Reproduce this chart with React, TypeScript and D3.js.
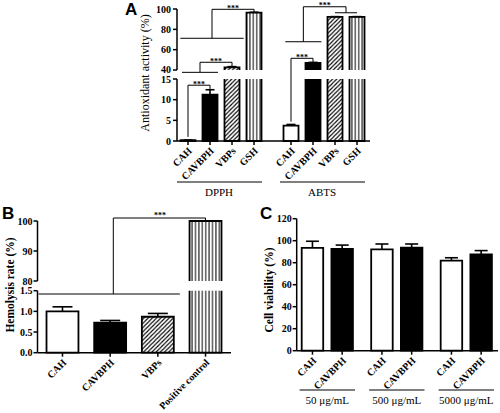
import React from 'react';
import * as d3 from 'd3';

// ---------- Panel A data ----------
const aGroups = ['DPPH', 'ABTS'];
const aCats = ['CAH', 'CAVBPH', 'VBPs', 'GSH'];
const aDPPH = [0.2, 11.2, 42.5, 96.5];
const aDPPHErr = [0.05, 1.2, 0.8, 0.3];
const aABTS = [3.7, 47.0, 92.2, 92.2];
const aABTSErr = [0.3, 0.5, 0.3, 0.3];
const aTopTicks = [40, 60, 80, 100];
const aBotTicks = [0, 5, 10, 15];

// ---------- Panel B data ----------
const bCats = ['CAH', 'CAVBPH', 'VBPs', 'Positive control'];
const bVals = [1.0, 0.73, 0.87, 100];
const bErr = [0.11, 0.05, 0.08, 0];
const bTopTicks = [80, 90, 100];
const bBotTicks = [0, 0.5, 1.0, 1.5];
const bTickLabels = ['0.0', '0.5', '1.0', '1.5'];

// ---------- Panel C data ----------
const cGroups = ['50 μg/mL', '500 μg/mL', '5000 μg/mL'];
const cCats = ['CAH', 'CAVBPH'];
const cCAH = [93.5, 92.2, 81.8];
const cCAHErr = [6.0, 4.8, 2.7];
const cCAVBPH = [92.5, 93.6, 87.6];
const cCAVBPHErr = [3.5, 3.4, 3.4];
const cTicks = [0, 20, 40, 60, 80, 100, 120];

const SERIF = '"Liberation Serif", "DejaVu Serif", serif';
const SANS = '"Liberation Sans", Arial, sans-serif';

const fillFor = (c: string) =>
  c === 'CAH' ? '#fff' : c === 'CAVBPH' ? '#000' : c === 'VBPs' ? 'url(#hatch)' : 'url(#vstripe)';

type Scale = (v: number) => number;

function Bar(props: {
  x: number; w: number; v: number; err: number; fill: string;
  yLo: Scale; loMax: number; yHi?: Scale; hiMin?: number; capW: number;
}) {
  const { x, w, v, err, fill, yLo, loMax, yHi, hiMin, capW } = props;
  const broken = !!yHi && hiMin !== undefined && v > hiMin;
  const y0 = yLo(0);
  const y1 = yLo(Math.min(v, loMax));
  const yOf = (t: number) => (broken && yHi ? yHi(t) : yLo(t));
  const cx = x + w / 2;
  const sw = 1.8;
  const lowPath = broken
    ? `M${x},${y1}V${y0}H${x + w}V${y1}`
    : `M${x},${y0}V${y1}H${x + w}V${y0}Z`;
  let high = null;
  if (broken && yHi && hiMin !== undefined) {
    const h0 = yHi(hiMin);
    const h1 = yHi(v);
    high = (
      <g>
        <rect x={x} y={h1} width={w} height={h0 - h1} fill={fill} />
        <path d={`M${x},${h0}V${h1}H${x + w}V${h0}`} fill="none" stroke="#000" strokeWidth={sw} />
      </g>
    );
  }
  const yt = yOf(v);
  const ye = yOf(v + err);
  return (
    <g>
      <rect x={x} y={y1} width={w} height={y0 - y1} fill={fill} />
      <path d={lowPath} fill="none" stroke="#000" strokeWidth={sw} />
      {high}
      {err > 0 && (
        <g stroke="#000" strokeWidth={1.6}>
          <line x1={cx} x2={cx} y1={yt} y2={ye} />
          <line x1={cx - capW / 2} x2={cx + capW / 2} y1={ye} y2={ye} />
        </g>
      )}
    </g>
  );
}

function Stars({ x, y }: { x: number; y: number }) {
  return (
    <text x={x} y={y + 1.5} textAnchor="middle" fontFamily={SERIF} fontSize={8} fontWeight="bold">***</text>
  );
}

export default function App() {
  // ----- Panel A scales -----
  const axA = 177;
  const yTopA = d3.scaleLinear().domain([40, 100]).range([70, 9]);
  const yBotA = d3.scaleLinear().domain([0, 15]).range([141, 79]);
  const yA = (v: number) => (v > 27 ? yTopA(v) : yBotA(v));
  const gA = d3.scaleBand<string>().domain(aGroups).range([177, 368]).paddingInner(15 / 103);
  const iA = d3.scaleBand<string>().domain(aCats).range([0, gA.bandwidth()]).paddingInner(0.318).paddingOuter(0.159);
  const cxA = (g: string, c: string) => (gA(g) as number) + (iA(c) as number) + iA.bandwidth() / 2;
  const baseA = yBotA(0);
  const aSeries: Record<string, { v: number[]; e: number[] }> = {
    DPPH: { v: aDPPH, e: aDPPHErr },
    ABTS: { v: aABTS, e: aABTSErr },
  };

  // brackets for A
  const d1 = cxA('DPPH', 'CAH'), d2 = cxA('DPPH', 'CAVBPH'), d3x = cxA('DPPH', 'VBPs'), d4 = cxA('DPPH', 'GSH');
  const b1 = cxA('ABTS', 'CAH'), b2 = cxA('ABTS', 'CAVBPH'), b3 = cxA('ABTS', 'VBPs'), b4 = cxA('ABTS', 'GSH');
  const br2L = d1 - 6, br2R = d2 + 8, br2M = (br2L + br2R) / 2;
  const br3L = d1 - 7.7, br3R = d3x + 11.7, br3M = (br3L + br3R) / 2;
  const br5L = b1 - 5.7, br5R = b2 + 8.4, br5M = (br5L + br5R) / 2, br5T = (b3 + b4) / 2;
  const bracketsA = [
    `M${d1},${yA(1.0)}V${yA(13.5)}H${d2}V${yA(12.6)}`,
    `M${br2L},${yA(37.7)}H${br2R}M${br2M},${yA(37.7)}V${yA(47.6)}H${d3x}V${yA(43.6)}`,
    `M${br3L},${yA(71.2)}H${br3R}M${br3M},${yA(71.2)}V${yA(99.7)}H${d4}V${yA(97.0)}`,
    `M${b1},${yA(4.7)}V${yA(51.5)}H${b2}V${yA(47.6)}`,
    `M${br5L},${yA(67.8)}H${br5R}M${br5M},${yA(67.8)}V${yA(102.2)}H${br5T}V${yA(96.3)}M${b3},${yA(96.3)}H${b4}`,
  ];
  const starsA = [
    { x: (d1 + d2) / 2, y: yA(13.5) },
    { x: (br2M + d3x) / 2, y: yA(47.6) },
    { x: (br3M + d4) / 2, y: yA(99.7) },
    { x: (b1 + b2) / 2, y: yA(51.5) },
    { x: (br5M + br5T) / 2, y: yA(102.2) },
  ];

  // ----- Panel B scales -----
  const axB = 37.5;
  const yTopB = d3.scaleLinear().domain([80, 100]).range([281, 221]);
  const yBotB = d3.scaleLinear().domain([0, 1.5]).range([352.7, 290.7]);
  const xB = d3.scaleBand<string>().domain(bCats).range([38.5, 229.5]).paddingInner(0.33).paddingOuter(0.168);
  const cxB = (c: string) => (xB(c) as number) + xB.bandwidth() / 2;
  const baseB = yBotB(0);
  const brBL = 38.5, brBR = cxB('VBPs') + 22, brBM = 113.3;
  const pcX = cxB('Positive control');

  // ----- Panel C scales -----
  const axC = 296.7;
  const yC = d3.scaleLinear().domain([0, 120]).range([350.7, 218.7]);
  const gC = d3.scaleBand<string>().domain(cGroups).range([297.6, 496]).paddingInner(0.145);
  const iC = d3.scaleBand<string>().domain(cCats).range([0, gC.bandwidth()]).paddingInner(0.276).paddingOuter(0.138);
  const baseC = yC(0);
  const cSeries: Record<string, { v: number[]; e: number[] }> = {
    CAH: { v: cCAH, e: cCAHErr },
    CAVBPH: { v: cCAVBPH, e: cCAVBPHErr },
  };

  const tickLabel = { fontFamily: SERIF, fontSize: 10, fontWeight: 'bold' as const };

  return (
    <svg width={500} height={413} style={{ position: 'absolute', left: 0, top: 0, background: '#fff' }}>
      <defs>
        <pattern id="hatch" patternUnits="userSpaceOnUse" width={4.2} height={4.2}>
          <rect width={4.2} height={4.2} fill="#fff" />
          <path d="M-1,1.05L1.05,-1M0,4.2L4.2,0M3.15,5.25L5.25,3.15" stroke="#000" strokeWidth={1.1} />
        </pattern>
        <pattern id="vstripe" patternUnits="userSpaceOnUse" width={3.4} height={10}>
          <rect width={3.4} height={10} fill="#fff" />
          <line x1={1.7} x2={1.7} y1={0} y2={10} stroke="#000" strokeWidth={1} />
        </pattern>
      </defs>

      {/* ================= Panel A ================= */}
      <text x={125} y={15} fontFamily={SANS} fontSize={17} fontWeight="bold">A</text>
      <g stroke="#000" strokeWidth={1.5}>
        <line x1={axA} x2={axA} y1={yTopA(100)} y2={yTopA(40)} />
        <line x1={axA} x2={axA} y1={yBotA(15)} y2={yBotA(0)} />
        {aTopTicks.map(t => <line key={'at' + t} x1={axA - 4} x2={axA} y1={yTopA(t)} y2={yTopA(t)} />)}
        {aBotTicks.map(t => <line key={'ab' + t} x1={axA - 4} x2={axA} y1={yBotA(t)} y2={yBotA(t)} />)}
      </g>
      {aTopTicks.map(t => (
        <text key={'atl' + t} x={axA - 6} y={yTopA(t) - (t === 40 ? 0.8 : 0)} dy="0.35em" textAnchor="end" {...tickLabel}>{t}</text>
      ))}
      {aBotTicks.map(t => (
        <text key={'abl' + t} x={axA - 6} y={yBotA(t) + (t === 15 ? 0.8 : 0)} dy="0.35em" textAnchor="end" {...tickLabel}>{t}</text>
      ))}
      <text transform={`translate(145,73) rotate(-90)`} dy="0.35em" textAnchor="middle" fontFamily={SERIF} fontSize={12}>
        Antioxidant activity (%)
      </text>

      {aGroups.map(g => (
        <g key={g}>
          {aCats.map((c, i) => (
            <Bar key={c} x={(gA(g) as number) + (iA(c) as number)} w={iA.bandwidth()} v={aSeries[g].v[i]} err={aSeries[g].e[i]}
              fill={fillFor(c)} yLo={yBotA} loMax={15} yHi={yTopA} hiMin={40} capW={9} />
          ))}
        </g>
      ))}
      <g stroke="#000" strokeWidth={1.5}>
        <line x1={axA} x2={370} y1={baseA} y2={baseA} />
        {aGroups.map(g => aCats.map(c => (
          <line key={g + c} x1={cxA(g, c)} x2={cxA(g, c)} y1={baseA} y2={baseA + 4} />
        )))}
      </g>
      {aGroups.map(g => aCats.map(c => (
        <text key={'l' + g + c} transform={`translate(${cxA(g, c) + 2},${baseA + 8}) rotate(-45)`} dy="0.35em"
          textAnchor="end" {...tickLabel}>{c}</text>
      )))}
      {aGroups.map(g => {
        const s = gA(g) as number;
        return (
          <g key={'grp' + g}>
            <line x1={s} x2={s + gA.bandwidth() - 3} y1={182} y2={182} stroke="#000" strokeWidth={1.2} />
            <text x={s + gA.bandwidth() / 2 - 2} y={196} textAnchor="middle" fontFamily={SERIF} fontSize={11}>{g}</text>
          </g>
        );
      })}
      <g fill="none" stroke="#000" strokeWidth={1}>
        {bracketsA.map((d, i) => <path key={'br' + i} d={d} />)}
      </g>
      {starsA.map((s, i) => <Stars key={'st' + i} x={s.x} y={s.y} />)}

      {/* ================= Panel B ================= */}
      <text x={2} y={219} fontFamily={SANS} fontSize={17} fontWeight="bold">B</text>
      <g stroke="#000" strokeWidth={1.5}>
        <line x1={axB} x2={axB} y1={yTopB(100)} y2={yTopB(80)} />
        <line x1={axB} x2={axB} y1={yBotB(1.5)} y2={yBotB(0)} />
        {bTopTicks.map(t => <line key={'bt' + t} x1={axB - 4} x2={axB} y1={yTopB(t)} y2={yTopB(t)} />)}
        {bBotTicks.map(t => <line key={'bb' + t} x1={axB - 4} x2={axB} y1={yBotB(t)} y2={yBotB(t)} />)}
      </g>
      {bTopTicks.map(t => (
        <text key={'btl' + t} x={axB - 5} y={yTopB(t)} dy="0.35em" textAnchor="end" {...tickLabel}>{t}</text>
      ))}
      {bBotTicks.map((t, i) => (
        <text key={'bbl' + t} x={axB - 5} y={yBotB(t)} dy="0.35em" textAnchor="end" {...tickLabel}>{bTickLabels[i]}</text>
      ))}
      <text transform={`translate(10,285) rotate(-90)`} dy="0.35em" textAnchor="middle" fontFamily={SERIF} fontSize={11.5} fontWeight="bold">
        Hemolysis rate (%)
      </text>
      {bCats.map((c, i) => (
        <Bar key={'b' + c} x={xB(c) as number} w={xB.bandwidth()} v={bVals[i]} err={bErr[i]}
          fill={fillFor(c === 'Positive control' ? 'GSH' : c)} yLo={yBotB} loMax={1.5} yHi={yTopB} hiMin={80} capW={20} />
      ))}
      <g stroke="#000" strokeWidth={1.5}>
        <line x1={axB} x2={231} y1={baseB} y2={baseB} />
        {bCats.map(c => <line key={'bx' + c} x1={cxB(c)} x2={cxB(c)} y1={baseB} y2={baseB + 4} />)}
      </g>
      {bCats.map(c => (
        <text key={'bxl' + c} transform={`translate(${cxB(c) + 2},${baseB + 8}) rotate(-45)`} dy="0.35em"
          textAnchor="end" {...tickLabel}>{c}</text>
      ))}
      <path d={`M${brBL},${yBotB(1.42)}H${brBR}M${brBM},${yBotB(1.42)}V${yTopB(101)}H${pcX}V${yTopB(100)}`}
        fill="none" stroke="#000" strokeWidth={1} />
      <text x={(brBM + pcX) / 2 + 0.5} y={yTopB(101)} textAnchor="middle" fontFamily={SERIF} fontSize={8} fontWeight="bold">***</text>

      {/* ================= Panel C ================= */}
      <text x={260} y={219} fontFamily={SANS} fontSize={17} fontWeight="bold">C</text>
      <g stroke="#000" strokeWidth={1.5}>
        <line x1={axC} x2={axC} y1={yC(120)} y2={yC(0)} />
        {cTicks.map(t => <line key={'ct' + t} x1={axC - 4} x2={axC} y1={yC(t)} y2={yC(t)} />)}
      </g>
      {cTicks.map(t => (
        <text key={'ctl' + t} x={axC - 5} y={yC(t)} dy="0.35em" textAnchor="end" {...tickLabel}>{t}</text>
      ))}
      <text transform={`translate(269,290) rotate(-90)`} dy="0.35em" textAnchor="middle" fontFamily={SERIF} fontSize={11.5} fontWeight="bold">
        Cell viability (%)
      </text>
      {cGroups.map((g, gi) => (
        <g key={'cg' + g}>
          {cCats.map(c => (
            <Bar key={c} x={(gC(g) as number) + (iC(c) as number)} w={iC.bandwidth()} v={cSeries[c].v[gi]} err={cSeries[c].e[gi]}
              fill={fillFor(c)} yLo={yC} loMax={120} capW={13} />
          ))}
        </g>
      ))}
      <g stroke="#000" strokeWidth={1.5}>
        <line x1={axC} x2={498} y1={baseC} y2={baseC} />
        {cGroups.map(g => cCats.map(c => {
          const cx = (gC(g) as number) + (iC(c) as number) + iC.bandwidth() / 2;
          return <line key={'cx' + g + c} x1={cx} x2={cx} y1={baseC} y2={baseC + 4} />;
        }))}
      </g>
      {cGroups.map(g => cCats.map(c => {
        const cx = (gC(g) as number) + (iC(c) as number) + iC.bandwidth() / 2;
        return (
          <text key={'cxl' + g + c} transform={`translate(${cx + 2},${baseC + 8}) rotate(-45)`} dy="0.35em"
            textAnchor="end" {...tickLabel}>{c}</text>
        );
      }))}
      {cGroups.map(g => {
        const s = gC(g) as number;
        return (
          <g key={'cgl' + g}>
            <line x1={s + 2} x2={s + gC.bandwidth() - 2} y1={390} y2={390} stroke="#000" strokeWidth={1.2} />
            <text x={s + gC.bandwidth() / 2} y={404} textAnchor="middle" fontFamily={SERIF} fontSize={11}>{g}</text>
          </g>
        );
      })}
    </svg>
  );
}
